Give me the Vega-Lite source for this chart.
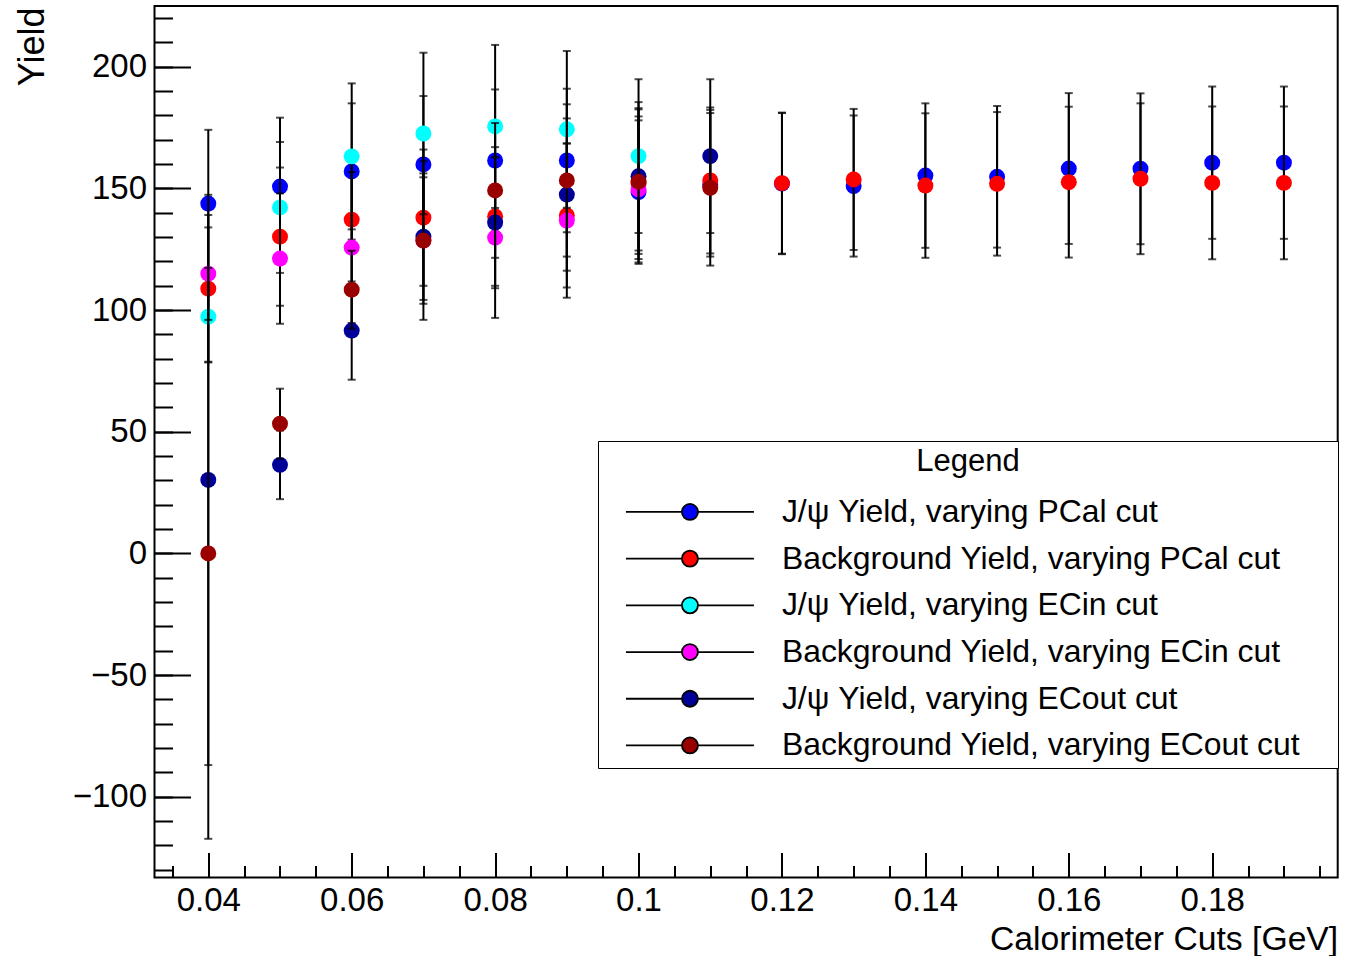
{
  "$schema": "https://vega.github.io/schema/vega-lite/v6.json",
  "width": 1183.2,
  "height": 871.5,
  "autosize": "none",
  "padding": {"left": 154.5, "top": 6, "right": 11.3, "bottom": 78.5},
  "background": "white",
  "config": {
    "view": {"stroke": "black", "strokeWidth": 2},
    "font": "Liberation Sans"
  },
  "data": {"values": [
    {"series": "J/ψ Yield, varying PCal cut", "x": 0.04, "y": 143.8, "err": 30.3},
    {"series": "J/ψ Yield, varying PCal cut", "x": 0.05, "y": 150.8, "err": 28.3},
    {"series": "J/ψ Yield, varying PCal cut", "x": 0.06, "y": 157, "err": 28},
    {"series": "J/ψ Yield, varying PCal cut", "x": 0.07, "y": 159.9, "err": 28.1},
    {"series": "J/ψ Yield, varying PCal cut", "x": 0.08, "y": 161.5, "err": 29.2},
    {"series": "J/ψ Yield, varying PCal cut", "x": 0.09, "y": 161.5, "err": 29.5},
    {"series": "J/ψ Yield, varying PCal cut", "x": 0.1, "y": 148.5, "err": 29.5},
    {"series": "J/ψ Yield, varying PCal cut", "x": 0.11, "y": 151.5, "err": 29.5},
    {"series": "J/ψ Yield, varying PCal cut", "x": 0.12, "y": 152, "err": 29},
    {"series": "J/ψ Yield, varying PCal cut", "x": 0.13, "y": 151, "err": 29},
    {"series": "J/ψ Yield, varying PCal cut", "x": 0.14, "y": 155.3, "err": 29.7},
    {"series": "J/ψ Yield, varying PCal cut", "x": 0.15, "y": 154.8, "err": 29.1},
    {"series": "J/ψ Yield, varying PCal cut", "x": 0.16, "y": 158.2, "err": 31},
    {"series": "J/ψ Yield, varying PCal cut", "x": 0.17, "y": 158.1, "err": 31},
    {"series": "J/ψ Yield, varying PCal cut", "x": 0.18, "y": 160.6, "err": 31.3},
    {"series": "J/ψ Yield, varying PCal cut", "x": 0.19, "y": 160.6, "err": 31.3},
    {"series": "Background Yield, varying PCal cut", "x": 0.04, "y": 108.8, "err": 30.3},
    {"series": "Background Yield, varying PCal cut", "x": 0.05, "y": 130.2, "err": 28.4},
    {"series": "Background Yield, varying PCal cut", "x": 0.06, "y": 137.2, "err": 28},
    {"series": "Background Yield, varying PCal cut", "x": 0.07, "y": 138, "err": 28},
    {"series": "Background Yield, varying PCal cut", "x": 0.08, "y": 138.5, "err": 28.5},
    {"series": "Background Yield, varying PCal cut", "x": 0.09, "y": 138.9, "err": 29.6},
    {"series": "Background Yield, varying PCal cut", "x": 0.1, "y": 152, "err": 31},
    {"series": "Background Yield, varying PCal cut", "x": 0.11, "y": 153.3, "err": 30},
    {"series": "Background Yield, varying PCal cut", "x": 0.12, "y": 152.2, "err": 29},
    {"series": "Background Yield, varying PCal cut", "x": 0.13, "y": 153.7, "err": 29},
    {"series": "Background Yield, varying PCal cut", "x": 0.14, "y": 151.2, "err": 29.7},
    {"series": "Background Yield, varying PCal cut", "x": 0.15, "y": 151.9, "err": 29.5},
    {"series": "Background Yield, varying PCal cut", "x": 0.16, "y": 152.6, "err": 31},
    {"series": "Background Yield, varying PCal cut", "x": 0.17, "y": 154, "err": 31},
    {"series": "Background Yield, varying PCal cut", "x": 0.18, "y": 152.3, "err": 31.4},
    {"series": "Background Yield, varying PCal cut", "x": 0.19, "y": 152.3, "err": 31.4},
    {"series": "J/ψ Yield, varying ECin cut", "x": 0.04, "y": 97.3, "err": 18.5},
    {"series": "J/ψ Yield, varying ECin cut", "x": 0.05, "y": 142.2, "err": 26.9},
    {"series": "J/ψ Yield, varying ECin cut", "x": 0.06, "y": 163.2, "err": 30},
    {"series": "J/ψ Yield, varying ECin cut", "x": 0.07, "y": 172.6, "err": 33.2},
    {"series": "J/ψ Yield, varying ECin cut", "x": 0.08, "y": 175.5, "err": 33.5},
    {"series": "J/ψ Yield, varying ECin cut", "x": 0.09, "y": 174.3, "err": 32.2},
    {"series": "J/ψ Yield, varying ECin cut", "x": 0.1, "y": 163.3, "err": 31.6},
    {"series": "Background Yield, varying ECin cut", "x": 0.04, "y": 115, "err": 19},
    {"series": "Background Yield, varying ECin cut", "x": 0.05, "y": 121.2, "err": 26.8},
    {"series": "Background Yield, varying ECin cut", "x": 0.06, "y": 125.7, "err": 31},
    {"series": "Background Yield, varying ECin cut", "x": 0.07, "y": 128.6, "err": 32.6},
    {"series": "Background Yield, varying ECin cut", "x": 0.08, "y": 129.8, "err": 33},
    {"series": "Background Yield, varying ECin cut", "x": 0.09, "y": 136.8, "err": 31.7},
    {"series": "Background Yield, varying ECin cut", "x": 0.1, "y": 149.6, "err": 30},
    {"series": "J/ψ Yield, varying ECout cut", "x": 0.04, "y": 30.2, "err": 117.2},
    {"series": "J/ψ Yield, varying ECout cut", "x": 0.05, "y": 36.4, "err": 14.1},
    {"series": "J/ψ Yield, varying ECout cut", "x": 0.06, "y": 91.6, "err": 20.2},
    {"series": "J/ψ Yield, varying ECout cut", "x": 0.07, "y": 130.2, "err": 26},
    {"series": "J/ψ Yield, varying ECout cut", "x": 0.08, "y": 136, "err": 27},
    {"series": "J/ψ Yield, varying ECout cut", "x": 0.09, "y": 147.5, "err": 31.3},
    {"series": "J/ψ Yield, varying ECout cut", "x": 0.1, "y": 155, "err": 30.5},
    {"series": "J/ψ Yield, varying ECout cut", "x": 0.11, "y": 163.3, "err": 31.6},
    {"series": "Background Yield, varying ECout cut", "x": 0.04, "y": 0, "err": 117.3},
    {"series": "Background Yield, varying ECout cut", "x": 0.05, "y": 53.3, "err": 14.4},
    {"series": "Background Yield, varying ECout cut", "x": 0.06, "y": 108.4, "err": 16},
    {"series": "Background Yield, varying ECout cut", "x": 0.07, "y": 128.6, "err": 26},
    {"series": "Background Yield, varying ECout cut", "x": 0.08, "y": 149.2, "err": 27.7},
    {"series": "Background Yield, varying ECout cut", "x": 0.09, "y": 153.3, "err": 31.3},
    {"series": "Background Yield, varying ECout cut", "x": 0.1, "y": 152.8, "err": 29.7},
    {"series": "Background Yield, varying ECout cut", "x": 0.11, "y": 150.3, "err": 32}
  ]},
  "encoding": {
    "x": {"field": "x", "type": "quantitative", "scale": {"domain": [0.0325, 0.1975], "nice": false, "zero": false}, "axis": null},
    "y": {"field": "y", "type": "quantitative", "scale": {"domain": [-133.2, 225], "nice": false, "zero": false}, "axis": null}
  },
  "resolve": {"axis": {"x": "independent", "y": "independent"}},
  "layer": [
    {"transform": [{"filter": "datum.series === 'J/ψ Yield, varying PCal cut'"}],
     "mark": {"type": "errorbar", "color": "black", "thickness": 2, "ticks": {"size": 8, "thickness": 2, "color": "black"}},
     "encoding": {"yError": {"field": "err"}}},
    {"transform": [{"filter": "datum.series === 'J/ψ Yield, varying PCal cut'"}],
     "mark": {"type": "circle", "size": 255, "opacity": 1},
     "encoding": {
       "x": {"field": "x", "type": "quantitative", "scale": {"domain": [0.0325, 0.1975], "nice": false, "zero": false},
         "axis": {"orient": "bottom", "values": [0.04, 0.06, 0.08, 0.1, 0.12, 0.14, 0.16, 0.18], "format": "~g", "tickSize": -25, "tickWidth": 2, "tickColor": "black", "domain": false, "grid": false,
           "labelFont": "Liberation Sans", "labelFontSize": 33, "labelColor": "black", "labelPadding": 32, "labelFlush": false, "labelOverlap": false,
           "title": "Calorimeter Cuts [GeV]", "titleFont": "Liberation Sans", "titleFontSize": 33.7, "titleFontWeight": "normal", "titleColor": "black",
           "titleAlign": "right", "titleBaseline": "alphabetic", "titleX": 1183.2, "titleY": 71.5}},
       "y": {"field": "y", "type": "quantitative", "scale": {"domain": [-133.2, 225], "nice": false, "zero": false},
         "axis": {"orient": "left", "values": [-100, -50, 0, 50, 100, 150, 200], "tickSize": -36, "tickWidth": 2, "tickColor": "black", "domain": false, "grid": false,
           "labelFont": "Liberation Sans", "labelFontSize": 33, "labelColor": "black", "labelPadding": 44, "labelFlush": false, "labelOverlap": false,
           "title": "Yield", "titleFont": "Liberation Sans", "titleFontSize": 36, "titleFontWeight": "normal", "titleColor": "black",
           "titleAngle": 270, "titleAlign": "right", "titleBaseline": "alphabetic", "titleX": -111, "titleY": 1}},
       "color": {"field": "series", "type": "nominal",
         "scale": {"domain": ["J/ψ Yield, varying PCal cut", "Background Yield, varying PCal cut", "J/ψ Yield, varying ECin cut", "Background Yield, varying ECin cut", "J/ψ Yield, varying ECout cut", "Background Yield, varying ECout cut"],
                   "range": ["#0000ff", "#ff0000", "#00ffff", "#ff00ff", "#000099", "#990000"]},
         "legend": {"title": "Legend", "orient": "none", "legendX": 443.5, "legendY": 435, "padding": 6,
           "fillColor": "white", "strokeColor": "black", "cornerRadius": 0,
           "titleAnchor": "middle", "titleFont": "Liberation Sans", "titleFontSize": 31, "titleFontWeight": "normal", "titleColor": "black", "titlePadding": 18,
           "labelFont": "Liberation Sans", "labelFontSize": 31.9, "labelColor": "black", "labelLimit": 800, "labelOffset": 76,
           "symbolType": "M-8,0H-1M1,0H8M-1,0A1,1,0,1,0,1,0A1,1,0,1,0,-1,0ZM79.75,0", "symbolSize": 256, "symbolOffset": 70,
           "symbolStrokeColor": "black", "symbolStrokeWidth": 1.8, "rowPadding": 13.7,
           "encode": {"symbols": {"update": {"stroke": {"value": "black"}, "strokeWidth": {"value": 1.6}, "opacity": {"value": 1}}},
                      "legend": {"update": {"strokeWidth": {"value": 1.5}}}}}}
     }},
    {"transform": [{"filter": "datum.series === 'Background Yield, varying PCal cut'"}],
     "mark": {"type": "errorbar", "color": "black", "thickness": 2, "ticks": {"size": 8, "thickness": 2, "color": "black"}},
     "encoding": {"yError": {"field": "err"}}},
    {"transform": [{"filter": "datum.series === 'Background Yield, varying PCal cut'"}],
     "mark": {"type": "circle", "size": 255, "opacity": 1},
     "encoding": {
       "x": {"field": "x", "type": "quantitative", "scale": {"domain": [0.0325, 0.1975], "nice": false, "zero": false},
         "axis": {"orient": "bottom", "values": [0.035, 0.04, 0.045, 0.05, 0.055, 0.06, 0.065, 0.07, 0.075, 0.08, 0.085, 0.09, 0.095, 0.1, 0.105, 0.11, 0.115, 0.12, 0.125, 0.13, 0.135, 0.14, 0.145, 0.15, 0.155, 0.16, 0.165, 0.17, 0.175, 0.18, 0.185, 0.19, 0.195],
           "tickSize": -12, "tickWidth": 2, "tickColor": "black", "domain": false, "grid": false, "labels": false, "title": null}},
       "y": {"field": "y", "type": "quantitative", "scale": {"domain": [-133.2, 225], "nice": false, "zero": false},
         "axis": {"orient": "left", "values": [-130, -120, -110, -100, -90, -80, -70, -60, -50, -40, -30, -20, -10, 0, 10, 20, 30, 40, 50, 60, 70, 80, 90, 100, 110, 120, 130, 140, 150, 160, 170, 180, 190, 200, 210, 220],
           "tickSize": -18, "tickWidth": 2, "tickColor": "black", "domain": false, "grid": false, "labels": false, "title": null}},
       "color": {"field": "series", "type": "nominal",
         "scale": {"domain": ["J/ψ Yield, varying PCal cut", "Background Yield, varying PCal cut", "J/ψ Yield, varying ECin cut", "Background Yield, varying ECin cut", "J/ψ Yield, varying ECout cut", "Background Yield, varying ECout cut"],
                   "range": ["#0000ff", "#ff0000", "#00ffff", "#ff00ff", "#000099", "#990000"]}}
     }},
    {"transform": [{"filter": "datum.series === 'J/ψ Yield, varying ECin cut'"}],
     "mark": {"type": "errorbar", "color": "black", "thickness": 2, "ticks": {"size": 8, "thickness": 2, "color": "black"}},
     "encoding": {"yError": {"field": "err"}}},
    {"transform": [{"filter": "datum.series === 'J/ψ Yield, varying ECin cut'"}],
     "mark": {"type": "circle", "size": 255, "opacity": 1},
     "encoding": {"color": {"field": "series", "type": "nominal",
         "scale": {"domain": ["J/ψ Yield, varying PCal cut", "Background Yield, varying PCal cut", "J/ψ Yield, varying ECin cut", "Background Yield, varying ECin cut", "J/ψ Yield, varying ECout cut", "Background Yield, varying ECout cut"],
                   "range": ["#0000ff", "#ff0000", "#00ffff", "#ff00ff", "#000099", "#990000"]}}}},
    {"transform": [{"filter": "datum.series === 'Background Yield, varying ECin cut'"}],
     "mark": {"type": "errorbar", "color": "black", "thickness": 2, "ticks": {"size": 8, "thickness": 2, "color": "black"}},
     "encoding": {"yError": {"field": "err"}}},
    {"transform": [{"filter": "datum.series === 'Background Yield, varying ECin cut'"}],
     "mark": {"type": "circle", "size": 255, "opacity": 1},
     "encoding": {"color": {"field": "series", "type": "nominal",
         "scale": {"domain": ["J/ψ Yield, varying PCal cut", "Background Yield, varying PCal cut", "J/ψ Yield, varying ECin cut", "Background Yield, varying ECin cut", "J/ψ Yield, varying ECout cut", "Background Yield, varying ECout cut"],
                   "range": ["#0000ff", "#ff0000", "#00ffff", "#ff00ff", "#000099", "#990000"]}}}},
    {"transform": [{"filter": "datum.series === 'J/ψ Yield, varying ECout cut'"}],
     "mark": {"type": "errorbar", "color": "black", "thickness": 2, "ticks": {"size": 8, "thickness": 2, "color": "black"}},
     "encoding": {"yError": {"field": "err"}}},
    {"transform": [{"filter": "datum.series === 'J/ψ Yield, varying ECout cut'"}],
     "mark": {"type": "circle", "size": 255, "opacity": 1},
     "encoding": {"color": {"field": "series", "type": "nominal",
         "scale": {"domain": ["J/ψ Yield, varying PCal cut", "Background Yield, varying PCal cut", "J/ψ Yield, varying ECin cut", "Background Yield, varying ECin cut", "J/ψ Yield, varying ECout cut", "Background Yield, varying ECout cut"],
                   "range": ["#0000ff", "#ff0000", "#00ffff", "#ff00ff", "#000099", "#990000"]}}}},
    {"transform": [{"filter": "datum.series === 'Background Yield, varying ECout cut'"}],
     "mark": {"type": "errorbar", "color": "black", "thickness": 2, "ticks": {"size": 8, "thickness": 2, "color": "black"}},
     "encoding": {"yError": {"field": "err"}}},
    {"transform": [{"filter": "datum.series === 'Background Yield, varying ECout cut'"}],
     "mark": {"type": "circle", "size": 255, "opacity": 1},
     "encoding": {"color": {"field": "series", "type": "nominal",
         "scale": {"domain": ["J/ψ Yield, varying PCal cut", "Background Yield, varying PCal cut", "J/ψ Yield, varying ECin cut", "Background Yield, varying ECin cut", "J/ψ Yield, varying ECout cut", "Background Yield, varying ECout cut"],
                   "range": ["#0000ff", "#ff0000", "#00ffff", "#ff00ff", "#000099", "#990000"]}}}}
  ]
}
